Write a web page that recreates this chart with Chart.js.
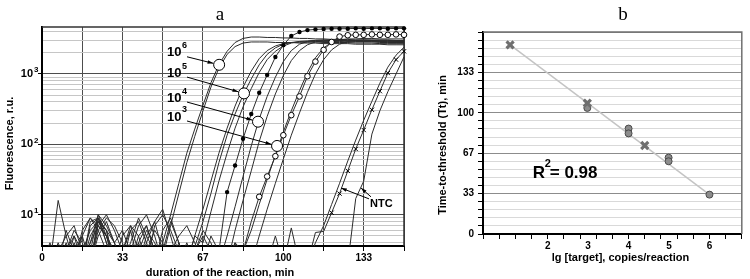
<!DOCTYPE html>
<html>
<head>
<meta charset="utf-8">
<title>Amplification curves and time-to-threshold</title>
<script src="https://cdn.jsdelivr.net/npm/chart.js@4.4.1/dist/chart.umd.min.js"></script>
<style>
  body { margin: 0; background: #fff; }
  .panel { position: absolute; top: 0; height: 279px; }
  #panelA { left: 0; width: 420px; }
  #panelB { left: 420px; width: 330px; }
  .letter { position: absolute; top: 4px; width: 40px; text-align: center;
            font: 19px/19px "Liberation Serif", "Times New Roman", serif; color: #000; }
</style>
</head>
<body>
<div class="panel" id="panelA"><canvas id="curvesChart"></canvas></div>
<div class="panel" id="panelB"><canvas id="thresholdChart"></canvas></div>
<div class="letter" style="left:200px">a</div>
<div class="letter" style="left:603px">b</div>
<script>
Chart.defaults.font.family = '"Liberation Sans", Arial, sans-serif';
Chart.defaults.font.size = 10;
Chart.defaults.font.weight = 'bold';
Chart.defaults.color = '#000';
Chart.defaults.animation = false;

// ---- panel a: fluorescence readings, one every 3.3 min ----
const minutes = [0, 3.3, 6.7, 10, 13.3, 16.7, 20, 23.3, 26.7, 30, 33.3, 36.7, 40, 43.3, 46.7,
  50, 53.3, 56.7, 60, 63.3, 66.7, 70, 73.3, 76.7, 80, 83.3, 86.7, 90, 93.3, 96.7, 100,
  103.3, 106.7, 110, 113.3, 116.7, 120, 123.3, 126.7, 130, 133.3, 136.7, 140, 143.3, 146.7, 150];
const fluoTicks = [4, 5, 6, 7, 8, 9, 10, 20, 30, 40, 50, 60, 70, 80, 90,
  100, 200, 300, 400, 500, 600, 700, 800, 900, 1000, 2000, 3000, 4000];
const decadeExp = { 10: '1', 100: '2', 1000: '3' };

// 10^6 copies
const run6a = [2, 2, 16, 5, 7, 3, 2, 9, 6, 4, 2, 6, 8, 4, 2,
  4, 10, 28, 75, 165, 360, 750, 1350, 2100, 2800, 3200, 3350, 3350,
  3300, 3300, 3250, 3250, 3200, 3200, 3150, 3150, 3100, 3100, 3100, 3050, 3050, 3000, 3000, 3000, 2950, 2950];
const run6b = [2, 3, 2, 4, 2, 6, 9, 7, 5, 3, 2, 2, 5, 7, 3,
  2.5, 7, 20, 55, 130, 300, 650, 1200, 1900, 2450, 2750, 2850, 2850,
  2850, 2800, 2800, 2800, 2750, 2750, 2750, 2700, 2700, 2700, 2700, 2650, 2650, 2650, 2650, 2600, 2600, 2600];
// 10^5 copies
const run5a = [3, 2, 2, 2, 5, 2, 3, 10, 7, 4, 6, 3, 2, 4, 8, 12, 5, 2, 3,
  3.5, 8, 20, 55, 135, 270, 500, 850, 1350, 1900, 2350, 2650, 2800, 2850,
  2850, 2850, 2800, 2800, 2800, 2800, 2750, 2750, 2750, 2700, 2700, 2700, 2700];
const run5b = [2, 2, 3, 5, 2, 2, 8, 9, 4, 2, 5, 7, 3, 2, 2, 6, 9, 4, 2,
  5, 12, 30, 75, 170, 350, 650, 1100, 1650, 2150, 2500, 2700, 2800,
  2850, 2850, 2900, 2900, 2900, 2900, 2850, 2850, 2850, 2850, 2800, 2800, 2800, 2800];
const run5c = [2, 2, 2, 3, 6, 4, 2, 7, 10, 6, 3, 2, 4, 2, 7, 10, 6, 3, 2, 5,
  4, 11, 30, 75, 170, 340, 620, 1050, 1600, 2100, 2500, 2750, 2900,
  2950, 3000, 3000, 3000, 3000, 2950, 2950, 2950, 2950, 2900, 2900, 2900, 2900];
const runDots = [2, 2, 4, 2, 2, 3, 6, 8, 5, 3, 2, 2, 3, 6, 4, 2, 3, 5, 7, 4, 2, 2, 3,
  21, 50, 120, 270, 540, 970, 1740, 2570, 3470, 3950,
  4200, 4300, 4350, 4400, 4400, 4400, 4450, 4400, 4450, 4450, 4400, 4450, 4450];
// 10^4 copies
const run4a = [2, 4, 2, 2, 3, 2, 5, 8, 6, 2, 2, 4, 9, 5, 3, 2, 2, 4, 2, 3, 6, 4, 2,
  5, 13, 35, 95, 230, 480, 900, 1500, 2150, 2650, 2900, 3000,
  3050, 3050, 3050, 3000, 3000, 3000, 3000, 2950, 2950, 2950, 2950];
const run4b = [2, 2, 2, 6, 3, 2, 4, 10, 5, 2, 3, 7, 5, 2, 2, 3, 8, 4, 2, 2, 2, 5, 3, 2,
  6, 16, 42, 110, 250, 520, 950, 1550, 2150, 2600, 2850,
  2950, 2950, 2950, 2950, 2900, 2900, 2900, 2900, 2850, 2850, 2850];
// 10^3 copies
const run3a = [2, 2, 3, 2, 2, 5, 9, 6, 3, 2, 2, 3, 7, 10, 5, 2, 2, 2, 4, 2, 2, 3, 2, 2, 4, 3,
  6, 14, 32, 70, 150, 300, 580, 1050, 1700, 2350, 2800, 3050, 3150,
  3150, 3200, 3200, 3150, 3150, 3150, 3150];
const runCircles = [2, 3, 2, 2, 4, 2, 7, 9, 4, 2, 3, 2, 2, 5, 8, 3, 2, 2, 2, 3, 5, 3, 2, 2, 2, 3,
  8, 18, 35, 68, 135, 260, 480, 930, 1500, 2200, 2850, 3400, 3550,
  3600, 3600, 3650, 3600, 3600, 3650, 3600];
const run3b = [2, 2, 2, 3, 5, 3, 2, 6, 9, 7, 4, 2, 2, 3, 6, 4, 2, 2, 2, 2, 3, 2, 2, 2, 4, 2, 2,
  5, 12, 28, 62, 135, 280, 550, 1000, 1600, 2200, 2650, 2900,
  3000, 3050, 3050, 3050, 3050, 3000, 3000];
// no-template controls
const ntcCross = [2, 2, 2, 2, 3, 5, 2, 8, 6, 2, 2, 2, 4, 7, 3, 2, 2, 2, 2, 2, 2, 2, 2, 2, 2, 2, 2, 2, 2, 5, 2, 2, 2, 2,
  5.6, 5.8, 10.7, 20, 42, 86, 160, 310, 570, 1030, 1600, 2100];
const ntcPair = [2, 2, 2, 2, 2, 2, 4, 7, 5, 2, 3, 6, 2, 2, 2, 2, 2, 2, 2, 2, 2, 2, 2, 2, 2, 2, 2, 2, 2, 2, 2, 6.5, 2, 2,
  4, 7, 14, 28, 58, 115, 220, 410, 740, 1250, 1850, 2400];
const ntcLate = [2, 2, 2, 3, 2, 2, 2, 5, 8, 4, 2, 2, 2, 2, 2, 2, 2, 2, 2, 2, 2, 2, 2, 2, 2, 2, 2, 2, 2, 2, 2, 2, 2, 2, 2, 2, 2, 2, 2,
  17, 30, 140, 300, 560, 1000, 1750];

// big circles marked 10^6 ... 10^3
const copyExp = ['6', '5', '4', '3'];
const copyMarkT = [73.4, 83.7, 89.5, 97.4];
const copyMarkF = [1350, 530, 210, 95];

// ---- panel b: time-to-threshold vs lg target ----
const lgTicks = [0.4, 0.8, 1.2, 1.6, 2, 2.4, 2.8, 3, 3.2, 3.6, 4, 4.4, 4.8, 5, 5.2, 5.6, 6, 6.4, 6.8];
const lgCross = [1.07, 2.98, 4.4];
const ttCross = [156, 108, 73];
const lgCircle = [2.98, 4, 4, 4.99, 4.99, 6];
const ttCircle = [104, 87, 83, 63, 60, 32.5];
const lgFit = [1.07, 6];
const ttFit = [156, 32.5];

function curve(vals) {
  return minutes.map((t, i) => ({ x: t, y: vals[i] }));
}
function pairs(xs, ys) {
  return xs.map((v, i) => ({ x: v, y: ys[i] }));
}
function arrow(ctx, x0, y0, x1, y1, gap) {
  const a = Math.atan2(y1 - y0, x1 - x0);
  const ex = x1 - Math.cos(a) * gap, ey = y1 - Math.sin(a) * gap;
  ctx.beginPath();
  ctx.moveTo(x0, y0);
  ctx.lineTo(ex, ey);
  ctx.stroke();
  ctx.beginPath();
  ctx.moveTo(ex, ey);
  ctx.lineTo(ex - 6 * Math.cos(a - 0.3), ey - 6 * Math.sin(a - 0.3));
  ctx.lineTo(ex - 6 * Math.cos(a + 0.3), ey - 6 * Math.sin(a + 0.3));
  ctx.closePath();
  ctx.fill();
}

// top and right edge of the plot box
const frame = {
  id: 'frame',
  beforeDatasetsDraw(chart, args, opts) {
    const { ctx, chartArea: a } = chart;
    ctx.save();
    ctx.strokeStyle = opts.color;
    ctx.lineWidth = 1.5;
    ctx.beginPath();
    ctx.moveTo(a.left, a.top);
    ctx.lineTo(a.right, a.top);
    ctx.lineTo(a.right, a.bottom);
    ctx.stroke();
    ctx.restore();
  }
};

const axisTitles = {
  id: 'axisTitles',
  afterDraw(chart, args, opts) {
    const { ctx, chartArea: a } = chart;
    ctx.save();
    ctx.font = 'bold 11px "Liberation Sans", Arial, sans-serif';
    ctx.fillStyle = '#000';
    ctx.textAlign = 'center';
    ctx.textBaseline = 'middle';
    ctx.fillText(opts.xText, (a.left + a.right) / 2 + opts.xShift, a.bottom + opts.xDrop);
    ctx.translate(a.left - opts.yGap, (a.top + a.bottom) / 2 + opts.yShift);
    ctx.rotate(-Math.PI / 2);
    ctx.fillText(opts.yText, 0, 0);
    ctx.restore();
  }
};

// exponents of the 10^n tick labels on the log axis
const decadeExponents = {
  id: 'decadeExponents',
  afterDraw(chart) {
    const { ctx, chartArea: a, scales: { y } } = chart;
    ctx.save();
    ctx.fillStyle = '#000';
    ctx.textAlign = 'left';
    ctx.textBaseline = 'middle';
    ctx.font = 'bold 8px "Liberation Sans", Arial, sans-serif';
    Object.keys(decadeExp).forEach(v => {
      ctx.fillText(decadeExp[v], a.left - 8, y.getPixelForValue(Number(v)) - 4);
    });
    ctx.restore();
  }
};

const curveNotes = {
  id: 'curveNotes',
  afterDatasetsDraw(chart, args, opts) {
    const { ctx, scales: { x, y } } = chart;
    ctx.save();
    ctx.fillStyle = '#000';
    ctx.strokeStyle = '#000';
    ctx.lineWidth = 1;
    ctx.textBaseline = 'middle';
    ctx.textAlign = 'left';
    copyExp.forEach((e, i) => {
      const lx = x.getPixelForValue(opts.labelT);
      const ly = y.getPixelForValue(opts.labelF[i]);
      ctx.font = 'bold 13px "Liberation Sans", Arial, sans-serif';
      ctx.fillText('10', lx, ly);
      ctx.font = 'bold 9px "Liberation Sans", Arial, sans-serif';
      ctx.fillText(e, lx + 15, ly - 7);
      arrow(ctx, lx + 20, ly + 4, x.getPixelForValue(copyMarkT[i]), y.getPixelForValue(copyMarkF[i]), 6);
    });
    const nx = x.getPixelForValue(opts.ntcT);
    const ny = y.getPixelForValue(opts.ntcF);
    ctx.font = 'bold 11px "Liberation Sans", Arial, sans-serif';
    ctx.fillText('NTC', nx, ny);
    opts.ntcTargetT.forEach((t, i) => {
      arrow(ctx, nx - 1 + i * 2, ny - 5 - i * 2, x.getPixelForValue(t), y.getPixelForValue(opts.ntcTargetF[i]), 0);
    });
    ctx.restore();
  }
};

const fitNote = {
  id: 'fitNote',
  afterDatasetsDraw(chart, args, opts) {
    const { ctx, scales: { x, y } } = chart;
    const px = x.getPixelForValue(opts.at[0]);
    const py = y.getPixelForValue(opts.at[1]);
    ctx.save();
    ctx.fillStyle = '#000';
    ctx.textAlign = 'left';
    ctx.textBaseline = 'middle';
    ctx.font = 'bold 17px "Liberation Sans", Arial, sans-serif';
    ctx.fillText('R', px, py);
    ctx.fillText('= 0.98', px + 17, py);
    ctx.font = 'bold 11px "Liberation Sans", Arial, sans-serif';
    ctx.fillText('2', px + 12, py - 9);
    ctx.restore();
  }
};

const thin = { borderColor: '#2b2b2b', borderWidth: 1, pointRadius: 0 };
const edgeClip = { left: 0, top: 4, right: 4, bottom: 0 };

new Chart(document.getElementById('curvesChart'), {
  type: 'line',
  data: {
    datasets: [
      { data: pairs(copyMarkT, copyMarkF), showLine: false, pointRadius: 5.5,
        pointBackgroundColor: '#fff', pointBorderColor: '#000', pointBorderWidth: 1 },
      { data: curve(runDots), borderColor: '#2b2b2b', borderWidth: 1, clip: edgeClip,
        pointRadius: c => c.dataIndex >= 23 ? 2.2 : 0, pointBackgroundColor: '#000', pointBorderWidth: 0 },
      { data: curve(runCircles), borderColor: '#2b2b2b', borderWidth: 1, clip: edgeClip,
        pointRadius: c => c.dataIndex >= 27 ? 2.8 : 0, pointBackgroundColor: '#fff',
        pointBorderColor: '#000', pointBorderWidth: 1 },
      { data: curve(ntcCross), borderColor: '#2b2b2b', borderWidth: 1, clip: edgeClip,
        pointStyle: 'crossRot', pointRadius: c => c.dataIndex >= 36 ? 3 : 0,
        pointBorderColor: '#000', pointBorderWidth: 1 },
      { data: curve(run6a), ...thin },
      { data: curve(run6b), ...thin },
      { data: curve(run5a), ...thin },
      { data: curve(run5b), ...thin },
      { data: curve(run5c), ...thin },
      { data: curve(run4a), ...thin },
      { data: curve(run4b), ...thin },
      { data: curve(run3a), ...thin },
      { data: curve(run3b), ...thin },
      { data: curve(ntcPair), ...thin },
      { data: curve(ntcLate), ...thin }
    ]
  },
  options: {
    responsive: true,
    maintainAspectRatio: false,
    layout: { padding: { top: 27, left: 3, right: 16, bottom: 0 } },
    plugins: {
      legend: { display: false },
      tooltip: { enabled: false },
      frame: { color: '#333' },
      axisTitles: { xText: 'duration of the reaction, min', xShift: -3, xDrop: 27,
                    yText: 'Fluorescence, r.u.', yGap: 32, yShift: 7 },
      curveNotes: { labelT: 51.8, labelF: [2000, 1030, 455, 245],
                    ntcT: 135.9, ntcF: 14.3, ntcTargetT: [123.9, 132.2], ntcTargetF: [24, 24] }
    },
    scales: {
      x: {
        type: 'linear', min: 0, max: 150,
        ticks: { stepSize: 50 / 3, autoSkip: false, maxRotation: 0, padding: 1,
                 callback: (v, i) => i % 2 === 0 ? Math.round(v) : '' },
        grid: { color: '#4d4d4d', tickLength: 5, tickColor: '#000' },
        border: { color: '#000', width: 2 },
        afterFit: s => { s.height = 33; }
      },
      y: {
        type: 'logarithmic', min: 3.6, max: 4650,
        afterBuildTicks: s => { s.ticks = fluoTicks.map(v => ({ value: v })); },
        ticks: { autoSkip: false, padding: 5, font: { size: 11 },
                 callback: v => decadeExp[v] ? '10' : '' },
        grid: {
          color: c => (c.tick && decadeExp[c.tick.value]) ? '#4d4d4d' : '#c6c6c6',
          tickLength: 4,
          tickColor: c => (c.tick && decadeExp[c.tick.value]) ? '#000' : 'rgba(0,0,0,0)'
        },
        border: { color: '#000', width: 2 },
        afterFit: s => { s.width = 39; }
      }
    }
  },
  plugins: [frame, axisTitles, decadeExponents, curveNotes]
});

new Chart(document.getElementById('thresholdChart'), {
  type: 'scatter',
  data: {
    datasets: [
      { data: pairs(lgCross, ttCross), pointStyle: 'crossRot', pointRadius: 5,
        pointBorderColor: '#6f6f6f', pointBorderWidth: 3.2 },
      { data: pairs(lgCircle, ttCircle), pointStyle: 'circle', pointRadius: 3.5,
        pointBackgroundColor: '#8c8c8c', pointBorderColor: '#4a4a4a', pointBorderWidth: 1 },
      { data: pairs(lgFit, ttFit), showLine: true, borderColor: '#c4c4c4', borderWidth: 1.5, pointRadius: 0 }
    ]
  },
  options: {
    responsive: true,
    maintainAspectRatio: false,
    layout: { padding: { top: 32, left: 16, right: 5, bottom: 0 } },
    plugins: {
      legend: { display: false },
      tooltip: { enabled: false },
      frame: { color: '#707070' },
      axisTitles: { xText: 'lg [target], copies/reaction', xShift: 8, xDrop: 24,
                    yText: 'Time-to-threshold (Tt), min', yGap: 40, yShift: 12 },
      fitNote: { at: [1.63, 50] }
    },
    scales: {
      x: {
        type: 'linear', min: 0.4, max: 6.8,
        afterBuildTicks: s => { s.ticks = lgTicks.map(v => ({ value: v })); },
        ticks: { autoSkip: false, maxRotation: 0, padding: 1,
                 callback: v => (Number.isInteger(v) && v >= 2) ? v : '' },
        grid: {
          drawOnChartArea: false, tickLength: 5,
          tickColor: c => (c.tick && (c.tick.value === 3 || c.tick.value === 5)) ? 'rgba(0,0,0,0)' : '#000'
        },
        border: { color: '#000', width: 2 },
        afterFit: s => { s.height = 45; }
      },
      y: {
        min: 0, max: 500 / 3,
        ticks: { stepSize: 20 / 3, autoSkip: false, padding: 4,
                 callback: (v, i) => (i % 5 === 0 && i < 25) ? Math.round(v) : '' },
        grid: { color: c => c.index % 5 === 0 ? '#8c8c8c' : '#d9d9d9', tickLength: 5, tickColor: '#000' },
        border: { color: '#000', width: 2 },
        afterFit: s => { s.width = 47; }
      }
    }
  },
  plugins: [frame, axisTitles, fitNote]
});
</script>
</body>
</html>
